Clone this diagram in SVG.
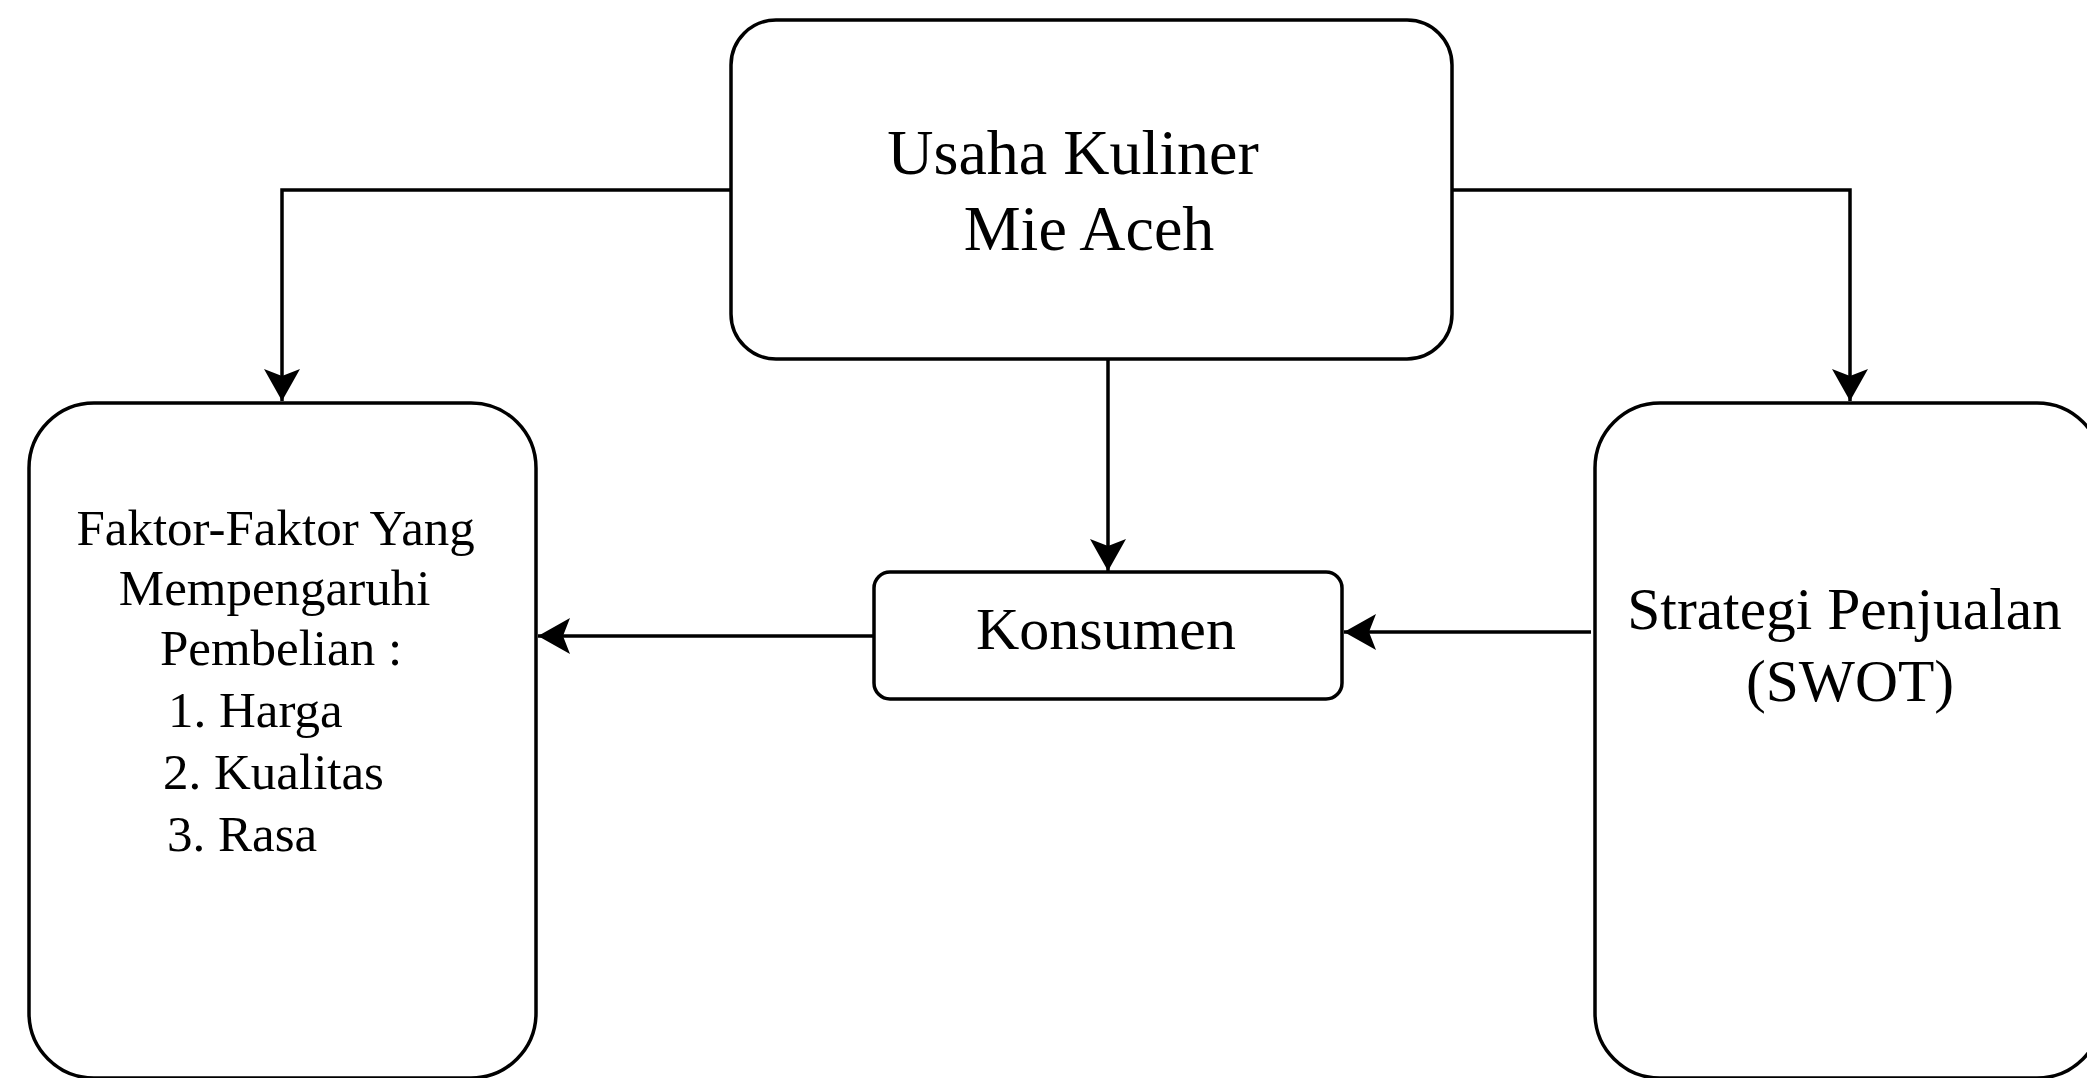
<svg xmlns="http://www.w3.org/2000/svg" width="2087" height="1078" viewBox="0 0 2087 1078">
  <style>
    .box { fill: #ffffff; stroke: #000000; stroke-width: 3.5; }
    .edge { fill: none; stroke: #000000; stroke-width: 3.5; }
    .t { font-family: "Liberation Serif", "Times New Roman", serif; fill: #000000; }
  </style>
  <defs>
    <marker id="arrow" markerUnits="userSpaceOnUse" viewBox="0 0 32 36" markerWidth="32" markerHeight="36" refX="32" refY="18" orient="auto">
      <path d="M0,0 L32,18 L0,36 L7,18 Z" fill="#000000"/>
    </marker>
  </defs>
  <rect width="2087" height="1078" fill="#ffffff"/>

  <g id="connectors">
    <path class="edge" d="M731,190 H282 V401" marker-end="url(#arrow)"/>
    <path class="edge" d="M1452,190 H1850 V401" marker-end="url(#arrow)"/>
    <path class="edge" d="M1108,359 V571" marker-end="url(#arrow)"/>
    <path class="edge" d="M874,636 H538" marker-end="url(#arrow)"/>
    <path class="edge" d="M1591,632 H1344" marker-end="url(#arrow)"/>
  </g>

  <g id="node-usaha">
    <rect class="box" x="731" y="20" width="721" height="339" rx="45" ry="45"/>
    <text class="t" font-size="64" text-anchor="middle">
      <tspan x="1081" y="174">Usaha Kuliner</tspan>
      <tspan x="1089" y="250">Mie Aceh</tspan>
    </text>
  </g>

  <g id="node-faktor">
    <rect class="box" x="29" y="403" width="507" height="675" rx="65" ry="65"/>
    <text class="t" font-size="51" text-anchor="middle">
      <tspan x="282" y="545">Faktor-Faktor Yang</tspan>
      <tspan x="281" y="605">Mempengaruhi</tspan>
      <tspan x="281" y="665">Pembelian :</tspan>
    </text>
    <text class="t" font-size="51">
      <tspan x="168" y="727">1. Harga</tspan>
      <tspan x="163" y="789">2. Kualitas</tspan>
      <tspan x="167" y="851">3. Rasa</tspan>
    </text>
  </g>

  <g id="node-konsumen">
    <rect class="box" x="874" y="572" width="468" height="127" rx="16" ry="16"/>
    <text class="t" font-size="60" text-anchor="middle" x="1106" y="649">Konsumen</text>
  </g>

  <g id="node-strategi">
    <rect class="box" x="1595" y="403" width="507" height="675" rx="65" ry="65"/>
    <text class="t" font-size="59.5" text-anchor="middle">
      <tspan x="1852" y="629">Strategi Penjualan</tspan>
      <tspan x="1850" y="701">(SWOT)</tspan>
    </text>
  </g>
</svg>
